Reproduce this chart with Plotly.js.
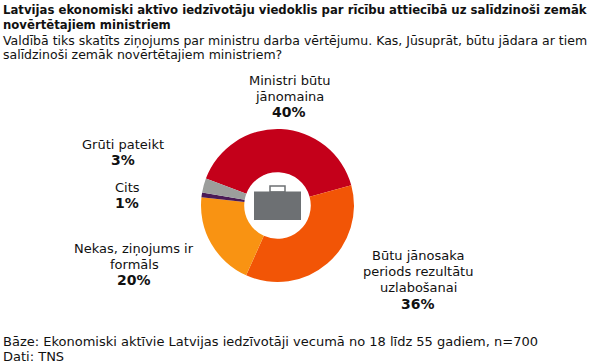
<!DOCTYPE html>
<html><head><meta charset="utf-8">
<script src="https://cdn.plot.ly/plotly-3.0.1.min.js"></script>
<style>html,body{margin:0;padding:0;background:#fff}#c{width:596px;height:363px}</style>
</head><body><div id="c"></div>
<script>
const categories = ["Ministri būtu jānomaina","Būtu jānosaka periods rezultātu uzlabošanai","Nekas, ziņojums ir formāls","Cits","Grūti pateikt"];
const values = [40,36,20,1,3];
const colors = ["#c4001a","#f25506","#f99312","#4a1a56","#9c9e9c"];
const labelLines = [["Ministri būtu","jānomaina"],["Būtu jānosaka","periods rezultātu","uzlabošanai"],["Nekas, ziņojums ir","formāls"],["Cits"],["Grūti pateikt"]];
const labelCenterX = [289,418,134,127,123];
const labelTopY = [80,255,248,187,144];
const W=596,H=363;
const FONT='"DejaVu Sans", Verdana, sans-serif';
const px=(x)=>x/W, py=(y)=>1-y/H;
function text(t,x,y,anchor,size){return {text:t,xref:'paper',yref:'paper',x:px(x),y:py(y),xanchor:anchor||'left',yanchor:'middle',showarrow:false,align:anchor==='center'?'center':'left',font:{family:FONT,size:size||13,color:'#111'}};}
const annotations=[
 text("<b>Latvijas ekonomiski aktīvo iedzīvotāju viedoklis par rīcību attiecībā uz salīdzinoši zemāk</b>",1,10,'left',11.7),
 text("<b>novērtētajiem ministriem</b>",1,25,'left',11.7),
 text("Valdībā tiks skatīts ziņojums par ministru darba vērtējumu. Kas, Jūsuprāt, būtu jādara ar tiem",1,40,'left',12.5),
 text("salīdzinoši zemāk novērtētajiem ministriem?",1,55,'left',12.5),
 text("Bāze: Ekonomiski aktīvie Latvijas iedzīvotāji vecumā no 18 līdz 55 gadiem, n=700",1,341),
 text("Dati: TNS",1,356)
];
categories.forEach((c,i)=>{
  labelLines[i].forEach((l,j)=>annotations.push(text(l,labelCenterX[i],labelTopY[i]+j*16.2,'center')));
  annotations.push(text("<b>"+values[i]+"%</b>",labelCenterX[i],labelTopY[i]+labelLines[i].length*16.2,'center',14));
});
const rect=(x0,y0,x1,y1,fill,line)=>({type:'rect',xref:'paper',yref:'paper',x0:px(x0),x1:px(x1),y0:py(y1),y1:py(y0),fillcolor:fill,line:line||{width:0}});
const shapes=[
 rect(270,186,285,192,'rgba(0,0,0,0)',{color:'#6d7073',width:1.5}),
 rect(254,191.5,301,220,'#6d7073')
];
Plotly.newPlot('c',[{type:'pie',labels:categories,values:values,hole:0.435,rotation:-69.4,direction:'clockwise',sort:false,
 marker:{colors:colors,line:{width:0}},textinfo:'none',hoverinfo:'label+percent',showlegend:false,
 domain:{x:[201/W,354/W],y:[1-282/H,1-129/H]}}],
 {width:W,height:H,margin:{l:0,r:0,t:0,b:0},paper_bgcolor:'#fff',showlegend:false,annotations:annotations,shapes:shapes},
 {displayModeBar:false,staticPlot:true});
</script></body></html>
